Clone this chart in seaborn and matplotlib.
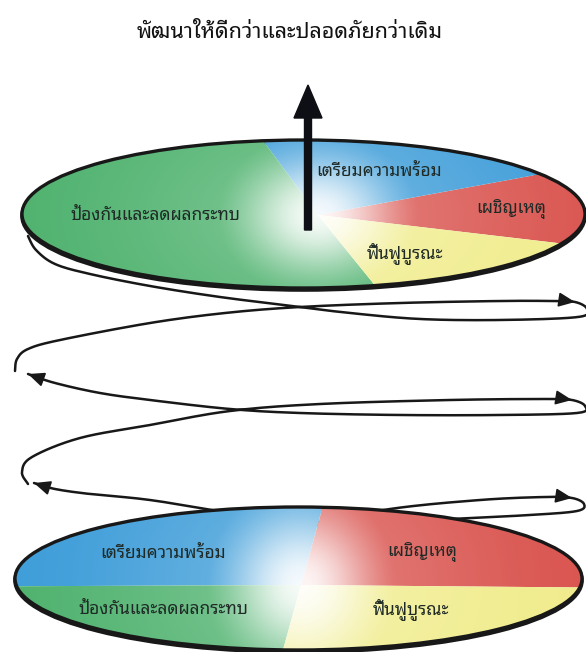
import numpy as np
import matplotlib
matplotlib.use("Agg")
import matplotlib.pyplot as plt
import seaborn as sns
from matplotlib.patches import Ellipse, FancyArrowPatch
from matplotlib.transforms import Affine2D
from matplotlib import font_manager as fm
from matplotlib.ft2font import FT2Font

# ---------------- data ----------------
title = "พัฒนาให้ดีกว่าและปลอดภัยกว่าเดิม"
phases = ["เผชิญเหตุ", "เตรียมความพร้อม", "ป้องกันและลดผลกระทบ", "ฟื้นฟูบูรณะ"]
top_share = [59, 66, 181, 54]        # angular share (degrees) of each phase, top disc
top_start = -24
bottom_share = [88, 95, 85, 92]      # bottom disc
bottom_start = -2
phase_colors = ["#d9514c", "#3a9bd8", "#4cb16c", "#f0ec8a"]

# ---------------- font with Thai glyphs ----------------
sns.set_theme(style="white")
thai = []
for f in fm.fontManager.ttflist:
    try:
        cm = FT2Font(f.fname).get_charmap()
        if 0x0E01 in cm and 0x0E49 in cm:
            thai.append(f.name)
    except Exception:
        pass
pref = ["Noto Sans Thai", "Sarabun", "Loma", "Garuda", "Tlwg", "Kinnari", "Norasi"]
chosen = None
for p in pref:
    for n in thai:
        if p.lower() in n.lower():
            chosen = n
            break
    if chosen:
        break
if chosen is None and thai:
    chosen = thai[0]
fam = ([chosen] if chosen else []) + ["DejaVu Sans"]
plt.rcParams["font.family"] = fam

W, H = 586, 652
fig = plt.figure(figsize=(W / 100, H / 100), dpi=100)
ax = fig.add_axes([0, 0, 1, 1])

ink = "#181818"

# ---------------- layout ----------------
discs = [
    dict(share=top_share, start=top_start, c=(303.5, 214), a=281.5, b=74,
         j=(318, 215), rlab=0.62, glow=(80, 62),
         nudge=[(19, -2), (-4, -1), (8, -9), (-23, 2)]),
    dict(share=bottom_share, start=bottom_start, c=(298.5, 578.5), a=283.5, b=71.5,
         j=(301, 585), rlab=0.60, glow=(75, 80),
         nudge=[(-5, -4), (-21, -1), (-14, -6), (-4, -8)]),
]

def catmull(pts, n=16):
    p = np.asarray(pts, float)
    p = np.vstack([p[0], p, p[-1]])
    out = []
    for i in range(1, len(p) - 2):
        p0, p1, p2, p3 = p[i - 1], p[i], p[i + 1], p[i + 2]
        t = np.linspace(0, 1, n, endpoint=False)[:, None]
        seg = 0.5 * ((2 * p1) + (-p0 + p2) * t + (2 * p0 - 5 * p1 + 4 * p2 - p3) * t ** 2
                     + (-p0 + 3 * p1 - 3 * p2 + p3) * t ** 3)
        out.append(seg)
    out.append(p[-2][None])
    return np.vstack(out)

# spiral strands (layout) with arrowhead control indices
strands = [
    ([(300, 526), (390, 509), (480, 500), (545, 497), (572, 498), (584, 504), (577, 511),
      (530, 515), (450, 519), (370, 523), (300, 525), (230, 513), (150, 500), (90, 494),
      (55, 489), (34, 483)], [4, 15]),
    ([(28, 484), (22, 472), (32, 457), (80, 438), (150, 425), (230, 411), (320, 404),
      (450, 400), (545, 399), (572, 400), (585, 406), (577, 413), (500, 415), (400, 415),
      (300, 413), (230, 409), (150, 400), (100, 393), (55, 383), (28, 374)], [9, 19]),
    ([(15, 371), (17, 359), (28, 349), (60, 340), (150, 323), (225, 313), (300, 307),
      (400, 303), (500, 301), (550, 301), (575, 302), (587, 309), (578, 317), (500, 320),
      (420, 319), (350, 313), (300, 307), (220, 297), (150, 286), (90, 274), (55, 264),
      (36, 250), (28, 236)], [10]),
]
NS = 16
for pts, arrows in strands:
    sp = catmull(pts, NS)
    sns.lineplot(x=sp[:, 0], y=sp[:, 1], sort=False, estimator=None, ax=ax,
                 color=ink, lw=1.8, zorder=1)
    for k in arrows:
        idx = min(k * NS, len(sp) - 1)
        tip = sp[idx]
        frm = sp[max(idx - 4, 0)]
        ax.add_patch(FancyArrowPatch(frm, tip, arrowstyle="-|>,head_length=0.5,head_width=0.22",
                                     mutation_scale=20, color=ink, lw=1.2, zorder=1.5,
                                     shrinkA=0, shrinkB=0))

# ---------------- discs ----------------
for d in discs:
    cx, cy = d["c"]
    a, b = d["a"], d["b"]
    jx, jy = d["j"]
    ax.add_patch(Ellipse((cx, cy + 2), 2 * a, 2 * b, fill=False, ec=ink, lw=2.6, zorder=2))
    clip = Ellipse((cx, cy), 2 * a, 2 * b, transform=ax.transData, fc="none", ec="none")
    ax.add_patch(clip)
    wedges, _ = ax.pie(d["share"], startangle=d["start"], counterclock=True,
                       colors=phase_colors, radius=2.3, center=(0, 0),
                       wedgeprops=dict(linewidth=0, edgecolor="none"))
    tr = Affine2D().scale(a, -b).translate(jx, jy) + ax.transData
    for w in wedges:
        w.set_transform(tr)
        w.set_clip_on(True)
        w.set_clip_path(clip)
        w.set_zorder(3)
    # soft white glow at the centre
    xs = np.linspace(cx - a, cx + a, 400)
    ys = np.linspace(cy - b, cy + b, 120)
    X, Y = np.meshgrid(xs, ys)
    gx, gy = d["glow"]
    g = 0.95 * np.exp(-(((X - jx) / gx) ** 2 + ((Y - jy) / gy) ** 2))
    g2 = 0.25 * np.exp(-(((X - jx) / (gx * 2.6)) ** 2 + ((Y - jy) / (gy * 2.0)) ** 2))
    alpha = np.clip(np.maximum(g, g2), 0, 1)
    img = np.ones((len(ys), len(xs), 4))
    img[..., 3] = alpha
    im = ax.imshow(img, extent=(cx - a, cx + a, cy + b, cy - b), origin="upper",
                   aspect="auto", zorder=3.5, interpolation="bilinear")
    im.set_clip_path(clip)
    ax.add_patch(Ellipse((cx, cy), 2 * a, 2 * b, fill=False, ec=ink, lw=2.4, zorder=5))
    # phase labels at wedge mid-angles
    ang = d["start"]
    for name, s, (nx, ny) in zip(phases, d["share"], d["nudge"]):
        mid = np.deg2rad(ang + s / 2)
        ang += s
        r = d["rlab"]
        lx = jx + a * r * np.cos(mid) + nx
        ly = jy - b * r * np.sin(mid) + ny
        ax.text(lx, ly, name, ha="center", va="center", fontsize=12.5,
                fontweight="bold", color="#1f2a26", zorder=6)

# ---------------- upward arrow ----------------
ax.arrow(308, 230, 0, -145, width=7, head_width=28, head_length=33,
         length_includes_head=True, color="#0e0f14", zorder=7)

# ---------------- title ----------------
ax.text(290, 33, title, ha="center", va="center", fontsize=15.5,
        fontweight="bold", color="#111111", zorder=8)

ax.set_aspect("auto")
ax.set_xlim(0, W)
ax.set_ylim(H, 0)
ax.set_axis_off()
fig.savefig("out.png", dpi=100)
